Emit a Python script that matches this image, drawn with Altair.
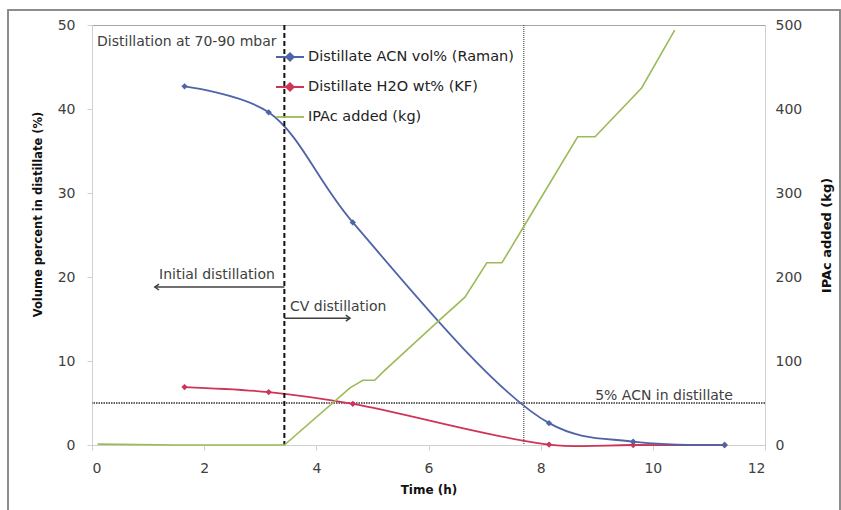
import altair as alt
import pandas as pd

# ---------------- data ----------------
series_names = ["Distillate ACN vol% (Raman)", "Distillate H2O wt% (KF)", "IPAc added (kg)"]
series_colors = ["#4F63A8", "#CF3356", "#9BBB59"]

acn_time = [1.65, 3.15, 4.65, 8.15, 9.65, 11.28]
acn_vol = [42.7, 39.6, 26.5, 2.6, 0.4, 0.0]

h2o_time = [1.65, 3.15, 4.65, 8.15, 9.65, 11.28]
h2o_wt = [6.9, 6.3, 4.9, 0.05, 0.0, 0.0]

ipac_time = [0.1, 1.5, 3.43, 4.6, 4.83, 5.04, 5.19, 6.2, 6.65, 7.04, 7.31, 7.68, 8.66, 8.97, 9.8, 10.39]
ipac_kg = [1, 0, 0, 68, 77, 77, 87, 149, 176, 217, 217, 258, 367, 367, 425, 494]

x_ticks = [0, 2, 4, 6, 8, 10, 12]
y_left_ticks = [0, 10, 20, 30, 40, 50]
y_right_ticks = [0, 100, 200, 300, 400, 500]

cv_start = [3.43]        # dashed vertical line: start of CV distillation
acn5_time = [7.7]        # dotted vertical line: 5% ACN reached
acn5_level = [5]         # dotted horizontal line

note_text = ["Distillation at 70-90 mbar", "Initial distillation", "CV distillation", "5% ACN in distillate"]
note_time = [0.09, 3.26, 3.53, 10.2]
note_val = [48.0, 20.2, 16.4, 5.85]
note_align = ["left", "right", "left", "center"]

arrow_from = [3.43, 3.43]
arrow_to = [1.12, 4.6]
arrow_level = [18.8, 15.1]

FONT = "DejaVu Sans"
TXT = "#404040"

acn_df = pd.DataFrame({"t": acn_time, "v": acn_vol})
h2o_df = pd.DataFrame({"t": h2o_time, "v": h2o_wt})
ipac_df = pd.DataFrame({"t": ipac_time, "v": ipac_kg})
notes_df = pd.DataFrame({"t": note_time, "v": note_val, "text": note_text, "align": note_align})
arrows_df = pd.DataFrame({"t": arrow_from, "t2": arrow_to, "v": arrow_level,
                          "head": ["left", "right"]})
legend_df = pd.DataFrame({"series": series_names})

xscale = alt.Scale(domain=[0, 12], nice=False)
yscale = alt.Scale(domain=[0, 50], nice=False)
y2scale = alt.Scale(domain=[0, 500], nice=False)

xaxis = alt.Axis(values=x_ticks, title="Time (h)", grid=False, tickSize=5, labelPadding=11,
                 titlePadding=9, titleFontSize=12)
yaxis = alt.Axis(values=y_left_ticks, title="Volume percent in distillate (%)", grid=False,
                 tickSize=5, labelPadding=12, titlePadding=14, titleFontSize=11.5, titleY=189)
y2axis = alt.Axis(values=y_right_ticks, title="IPAc added (kg)", grid=False, orient="right",
                  tickSize=0, labelPadding=10, titlePadding=32, titleAngle=270, titleFontSize=13)


def X(field="t"):
    return alt.X(f"{field}:Q", scale=xscale, axis=xaxis)


def Y(field="v"):
    return alt.Y(f"{field}:Q", scale=yscale, axis=yaxis)


acn_line = alt.Chart(acn_df).mark_line(interpolate="catmull-rom", color=series_colors[0],
                                       strokeWidth=1.8).encode(x=X(), y=Y())
acn_pts = alt.Chart(acn_df).mark_point(shape="diamond", filled=True, size=40, opacity=1,
                                       color=series_colors[0]).encode(x=X(), y=Y())
h2o_line = alt.Chart(h2o_df).mark_line(interpolate="catmull-rom", color=series_colors[1],
                                       strokeWidth=1.8).encode(x=X(), y=Y())
h2o_pts = alt.Chart(h2o_df).mark_point(shape="diamond", filled=True, size=40, opacity=1,
                                       color=series_colors[1]).encode(x=X(), y=Y())

cv_rule = alt.Chart(pd.DataFrame({"t": cv_start})).mark_rule(
    color="#111111", strokeWidth=2, strokeDash=[5, 3]).encode(x=X())
acn5_vrule = alt.Chart(pd.DataFrame({"t": acn5_time})).mark_rule(
    color="#333333", strokeWidth=1, strokeDash=[1, 1]).encode(x=X())
acn5_hrule = alt.Chart(pd.DataFrame({"v": acn5_level})).mark_rule(
    color="#333333", strokeWidth=1.3, strokeDash=[1.5, 1]).encode(y=Y())

notes = []
for al in ["left", "right", "center"]:
    notes.append(
        alt.Chart(notes_df).transform_filter(alt.datum.align == al).mark_text(
            align=al, baseline="middle", font=FONT, fontSize=14, color=TXT
        ).encode(x=X(), y=Y(), text="text:N")
    )

arrow_shaft = alt.Chart(arrows_df).mark_rule(color="#404040", strokeWidth=1.5).encode(
    x=X(), x2="t2:Q", y=Y())
arrow_left = alt.Chart(arrows_df).transform_filter(alt.datum.head == "left").mark_point(
    shape="M1,-0.7L0,0L1,0.7", size=70, filled=False, strokeWidth=1.5, color="#404040", opacity=1
).encode(x=X("t2"), y=Y())
arrow_right = alt.Chart(arrows_df).transform_filter(alt.datum.head == "right").mark_point(
    shape="M-1,-0.7L0,0L-1,0.7", size=70, filled=False, strokeWidth=1.5, color="#404040", opacity=1
).encode(x=X("t2"), y=Y())

left = alt.layer(acn5_hrule, acn5_vrule, h2o_line, acn_line, h2o_pts, acn_pts, cv_rule,
                 arrow_shaft, arrow_left, arrow_right, *notes)

right = alt.Chart(ipac_df).mark_line(color=series_colors[2], strokeWidth=1.6).encode(
    x=X(), y=alt.Y("v:Q", scale=y2scale, axis=y2axis))

diamond_line = "M-1,0H1M-0.27,0L0,-0.27L0.27,0L0,0.27Z"
plain_line = "M-1,0H1"
leg = alt.Legend(title=None, orient="none", legendX=183, legendY=17, symbolSize=784,
                 rowPadding=7, labelOffset=3, symbolStrokeWidth=1.8, labelFont=FONT,
                 labelFontSize=14.5, labelColor="#222222", padding=0, labelLimit=0)
legend_layer = alt.Chart(legend_df).mark_point(filled=True, opacity=1).encode(
    fill=alt.Fill("series:N", scale=alt.Scale(domain=series_names, range=series_colors), legend=leg),
    stroke=alt.Stroke("series:N", scale=alt.Scale(domain=series_names, range=series_colors), legend=leg),
    shape=alt.Shape("series:N", scale=alt.Scale(domain=series_names, range=[diamond_line, diamond_line, plain_line]), legend=leg),
).transform_filter("false")

frame = alt.Chart(legend_df).mark_rect(fill=None, stroke="#8c8c8c", strokeWidth=1.5).encode(
    x=alt.value(-84), x2=alt.value(748), y=alt.value(-15), y2=alt.value(495))

chart = alt.layer(left, right, legend_layer, frame).resolve_scale(y="independent").properties(
    width=673, height=420, autosize="none",
    padding={"left": 92, "top": 25, "right": 76, "bottom": 65},
).configure_view(stroke="#a6a6a6", strokeWidth=1).configure_axis(
    labelFont=FONT, labelFontSize=14, labelColor="#404040", titleFont=FONT,
    titleFontWeight="bold", titleColor="#111111", domainColor="#d0d0d0", tickColor="#d0d0d0",
)

chart.save("out.html", embed_options={"renderer": "svg", "actions": False})
